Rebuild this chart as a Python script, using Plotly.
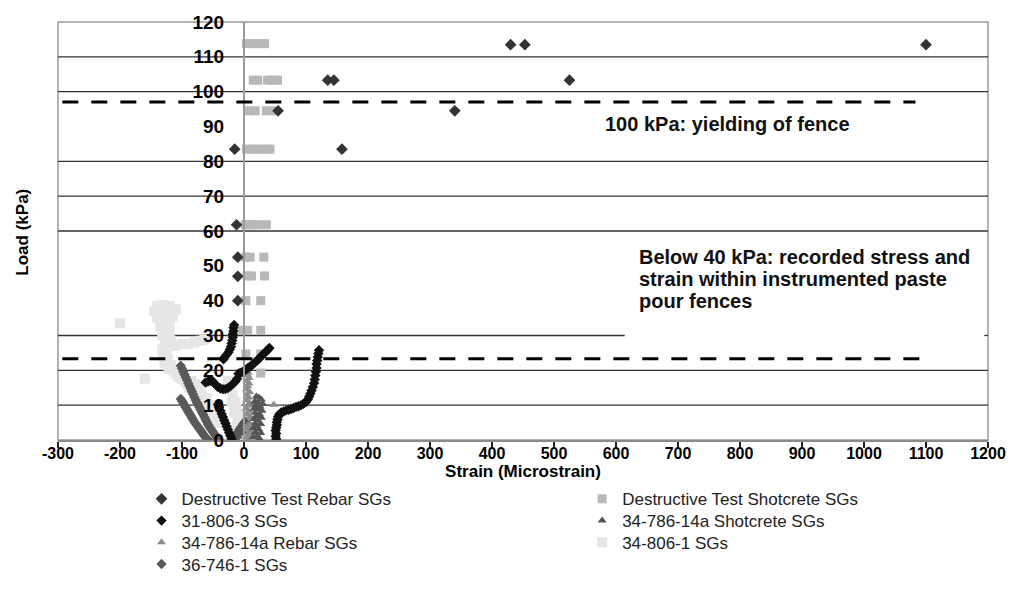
import plotly.graph_objects as go

# ---------------- data ----------------
x_tick_vals = [-300, -200, -100, 0, 100, 200, 300, 400, 500, 600, 700, 800, 900, 1000, 1100, 1200]
x_tick_text = ["-300", "-200", "-100", "0", "100", "200", "300", "400", "500", "600", "700", "800", "900", "1000", "1100", "1200"]
y_tick_vals = [0, 10, 20, 30, 40, 50, 60, 70, 80, 90, 100, 110, 120]
y_tick_text = ["0", "10", "20", "30", "40", "50", "60", "70", "80", "90", "100", "110", "120"]

# Destructive Test Rebar SGs
dtr_x = [1100, 430, 453, 525, 135, 145, 340, 55, 158, -15, -12, -10, -10, -10]
dtr_y = [113.5, 113.5, 113.5, 103.3, 103.3, 103.3, 94.5, 94.5, 83.5, 83.5, 61.8, 52.5, 47.0, 40.0]

# Destructive Test Shotcrete SGs
dts_x = [4, 12, 20, 28, 33,
         15, 22, 38, 46, 54,
         8, 18, 36, 45,
         4, 12, 20, 28, 36, 42,
         2, 8, 14, 22, 36,
         3, 10, 32,
         5, 12, 33,
         3, 27,
         -2, 6, 27,
         3, 27,
         27]
dts_y = [113.8, 113.8, 113.8, 113.8, 113.8,
         103.3, 103.3, 103.3, 103.3, 103.3,
         94.5, 94.5, 94.5, 94.5,
         83.5, 83.5, 83.5, 83.5, 83.5, 83.5,
         61.8, 61.8, 61.8, 61.8, 61.8,
         52.5, 52.5, 52.5,
         47.1, 47.1, 47.1,
         40.0, 40.0,
         31.5, 31.5, 31.5,
         24.7, 24.7,
         19.2]

# 31-806-3 SGs
s31_x = [52, 51, 52, 51, 52, 53, 53, 54, 55, 57, 60, 64, 68, 72, 76, 80, 84, 88, 92, 96, 100, 103, 105, 107,
         109, 111, 113, 114, 115, 116, 117, 117, 118, 119, 120, 121,
         -9, -6, -3, 0, 3, 6, 9, 12, 15, 18, 21, 24, 27, 30, 33, 36, 39, 41,
         -16, -17, -17, -18, -18, -19, -20, -21, -23, -25, -28, -31, -33,
         -62, -58, -54, -50, -46, -42, -38, -34, -30, -26, -22, -18, -14, -11,
         -42, -40, -38, -36, -34, -32, -30, -28, -26, -24, -22, -20]
s31_y = [0.3, 1.1, 1.9, 2.7, 3.5, 4.3, 5.1, 5.9, 6.7, 7.4, 7.9, 8.2, 8.5, 8.7, 8.9, 9.2, 9.5, 9.7, 10.0, 10.4, 10.9, 11.6, 12.4, 13.3,
         14.2, 15.2, 16.3, 17.4, 18.5, 19.6, 20.7, 21.8, 22.8, 23.8, 24.8, 25.8,
         19.0, 19.3, 19.5, 19.8, 20.2, 20.6, 21.0, 21.4, 21.8, 22.3, 22.8, 23.3, 23.9, 24.4, 25.0, 25.5, 26.0, 26.4,
         33.0, 32.2, 31.3, 30.4, 29.5, 28.6, 27.7, 26.8, 26.0, 25.2, 24.5, 23.8, 23.2,
         16.5, 16.8, 17.0, 16.8, 15.9, 15.2, 14.8, 14.6, 14.6, 14.9, 15.4, 16.1, 16.8, 17.6,
         10.2, 9.3, 8.4, 7.5, 6.6, 5.7, 4.8, 3.9, 3.0, 2.1, 1.2, 0.4]

# 34-786-14a Shotcrete SGs
s34s_x = [20, 24, 28, 17, 22, 30, 19, 26, 16, 23, 29, 18, 25, 20, 28, 16, 23, 18, 27, 21, 15, 24, 18, 27, 21, 15, 25,
          -20, -17, -14, -11, -8, -5, -2, 1, -12, -9, -6, -3]
s34s_y = [12.5, 12.2, 11.6, 11.0, 10.8, 10.4, 10.0, 9.6, 9.0, 8.8, 8.4, 7.8, 7.4, 6.8, 6.4, 6.0, 5.6, 4.8, 4.6, 4.0, 3.4, 3.0, 2.2, 2.0, 1.2, 0.8, 0.4,
          0.4, 1.1, 1.9, 2.7, 3.5, 4.3, 5.1, 5.7, 0.3, 1.0, 1.8, 2.6]

# 34-786-14a Rebar SGs
s34r_x = [7, 6, 8, 5, 8, 6, 4, 9, 5, 7, 4, 9, 6, 3, 8, 5, 10, 4, 8, 6, 3, 9, 5, 7, 4, 11, 12, 1, 48]
s34r_y = [19.4, 18.6, 17.8, 17.0, 16.2, 15.4, 14.6, 13.8, 13.0, 12.2, 11.4, 10.6, 9.8, 9.0, 8.2, 7.4, 6.6, 5.8, 5.0, 4.2,
          3.4, 2.6, 1.8, 1.0, 0.3, 3.5, 1.5, 2.0, 10.1]

# 34-806-1 SGs
s806_x = [-140, -130, -120, -110, -145, -135, -125, -115, -140, -130, -120, -135, -128, -120, -132, -125, -118,
          -128, -120, -110, -100, -90, -80, -70, -64, -132, -125, -130, -122, -128, -118, -122, -114, -110, -106,
          -100, -95, -92, -88, -84, -80, -85, -78, -72, -75, -70, -66, -68, -62, -58, -60, -55, -52, -48, -50, -45,
          -26, -22, -18, -14, -12, -10, -8, -12, -6, -4, -16, -20, -200, -160]
s806_y = [38.5, 38.8, 38.5, 37.5, 37.0, 36.5, 36.0, 35.5, 35.0, 34.0, 33.5, 32.5, 31.5, 31.0, 30.0, 29.0, 28.5,
          27.5, 27.0, 27.0, 27.5, 27.5, 28.0, 28.5, 28.8, 26.0, 25.0, 24.0, 23.0, 22.0, 21.5, 20.5, 20.0, 19.0, 18.0,
          17.5, 17.0, 16.0, 15.0, 14.5, 13.5, 17.0, 16.0, 14.5, 12.0, 11.0, 10.0, 13.0, 9.0, 8.0, 12.0, 10.0, 7.0, 6.0, 9.0, 5.0,
          17.0, 15.0, 13.0, 11.0, 9.0, 7.0, 5.0, 4.0, 3.0, 1.5, 8.0, 11.0, 33.5, 17.6]

# 36-746-1 SGs
s36_x = [-102, -100, -98, -96, -94, -92, -90, -88, -86, -84, -82, -80, -78, -76, -74, -72, -70, -68, -66, -64,
         -62, -60, -58, -56, -54, -52, -50, -48, -46, -44, -43,
         -102, -100, -98, -96, -94, -92, -90, -88, -86, -84, -82, -80, -78, -76, -74, -72, -70, -68, -66, -64,
         -62, -60, -58]
s36_y = [21.3, 20.5, 19.6, 18.8, 18.0, 17.2, 16.3, 15.5, 14.7, 13.9, 13.1, 12.3, 11.5, 10.8, 10.1, 9.4, 8.7, 8.0, 7.3, 6.6,
         5.9, 5.2, 4.5, 3.8, 3.3, 2.8, 2.3, 1.8, 1.3, 0.8, 0.5,
         11.8, 11.2, 10.6, 10.0, 9.4, 8.8, 8.2, 7.6, 7.0, 6.4, 5.8, 5.2, 4.7, 4.2, 3.7, 3.2, 2.7, 2.2, 1.7, 1.2,
         0.8, 0.4, 0.1]

# reference lines / gridlines
dash_levels = [97.0, 23.3]
dash_x0 = [-293, -293]
dash_x1 = [1083, 1099]
grid_full = [10, 20, 60, 70, 80, 100, 110]
grid_partial = 30
grid_partial_end = 614

FONT = "Liberation Sans, Arial, sans-serif"

fig = go.Figure()


def add(name, xs, ys, symbol, color, size, legend):
    fig.add_trace(go.Scatter(
        x=xs, y=ys, mode="markers", name=name, legend=legend, showlegend=True,
        marker=dict(symbol=symbol, color=color, size=size, line=dict(width=0)),
    ))


add("34-806-1 SGs", s806_x, s806_y, "square", "#e6e6e6", 10, "legend6")
add("Destructive Test Shotcrete SGs", dts_x, dts_y, "square", "#b8b8b8", 9, "legend2")
add("34-786-14a Rebar SGs", s34r_x, s34r_y, "triangle-up", "#8c8c8c", 8, "legend5")
add("34-786-14a Shotcrete SGs", s34s_x, s34s_y, "triangle-up", "#555555", 8, "legend4")
add("36-746-1 SGs", s36_x, s36_y, "diamond", "#5a5a5a", 8, "legend7")
add("31-806-3 SGs", s31_x, s31_y, "diamond", "#111111", 8, "legend3")
add("Destructive Test Rebar SGs", dtr_x, dtr_y, "diamond", "#333333", 9, "legend")

shapes = []
for g in grid_full:
    shapes.append(dict(type="line", xref="x", yref="y", x0=-300, x1=1200, y0=g, y1=g,
                       line=dict(color="#333333", width=1.3), layer="below"))
shapes.append(dict(type="line", xref="x", yref="y", x0=-300, x1=grid_partial_end, y0=grid_partial, y1=grid_partial,
                   line=dict(color="#333333", width=1.3), layer="below"))
shapes.append(dict(type="line", xref="x", yref="y", x0=1194, x1=1200, y0=grid_partial, y1=grid_partial,
                   line=dict(color="#333333", width=1.3), layer="below"))
# plot frame
shapes.append(dict(type="rect", xref="paper", yref="paper", x0=0, x1=1, y0=0, y1=1,
                   line=dict(color="#9a9a9a", width=1.5), layer="below"))
for lv, a, b in zip(dash_levels, dash_x0, dash_x1):
    shapes.append(dict(type="line", xref="x", yref="y", x0=a, x1=b, y0=lv, y1=lv,
                       line=dict(color="#000000", width=3, dash="16px,13px"), layer="above"))

ann_font = dict(family=FONT, size=20, color="#111", weight="bold")
annotations = [
    dict(text="100 kPa: yielding of fence", x=579, y=90.8, xref="x", yref="y", xanchor="left", yanchor="middle",
         showarrow=False, font=ann_font),
    dict(text="Below 40 kPa: recorded stress and", x=634, y=52.5, xref="x", yref="y", xanchor="left", yanchor="middle",
         showarrow=False, font=ann_font),
    dict(text="strain within instrumented paste", x=634, y=46.2, xref="x", yref="y", xanchor="left", yanchor="middle",
         showarrow=False, font=ann_font),
    dict(text="pour fences", x=634, y=40.0, xref="x", yref="y", xanchor="left", yanchor="middle",
         showarrow=False, font=ann_font),
    dict(text="Load (kPa)", x=-0.0385, y=0.4965, xref="paper", yref="paper", textangle=-90,
         xanchor="center", yanchor="middle", showarrow=False,
         font=dict(family=FONT, size=17, color="#000", weight="bold")),
]

leg_font = dict(family=FONT, size=17, color="#222222")
c1 = 0.0898
c2 = 0.5636
rows = [-0.1418, -0.1939, -0.2459, -0.2979]


def leg(x, y):
    return dict(x=x, y=y, xanchor="left", yanchor="middle", orientation="v", font=leg_font,
                bgcolor="rgba(0,0,0,0)", borderwidth=0, itemwidth=30, tracegroupgap=0)


fig.update_layout(
    width=1018, height=605,
    margin=dict(l=58, r=25, t=17, b=165, pad=0),
    paper_bgcolor="white", plot_bgcolor="white",
    font=dict(family=FONT, color="#000"),
    xaxis=dict(range=[-300, 1200], tickvals=x_tick_vals, ticktext=x_tick_text,
               showgrid=False, zeroline=False, showline=True, linecolor="#8a8a8a", linewidth=1.5,
               ticks="outside", ticklen=6, tickwidth=1.5, tickcolor="#222",
               ticklabelstandoff=-8,
               tickfont=dict(family=FONT, size=16, color="#000", weight="bold"),
               title=dict(text="Strain (Microstrain)", standoff=0,
                          font=dict(family=FONT, size=17, color="#000", weight="bold"))),
    yaxis=dict(range=[0, 120], tickvals=y_tick_vals, ticktext=y_tick_text,
               anchor="free", position=0.2,
               showgrid=False, zeroline=False, showline=True, linecolor="#9a9a9a", linewidth=2,
               ticks="", ticklabelstandoff=15,
               tickfont=dict(family=FONT, size=19, color="#000", weight="bold")),
    shapes=shapes,
    annotations=annotations,
    legend=leg(c1, rows[0]),
    legend2=leg(c2, rows[0]),
    legend3=leg(c1, rows[1]),
    legend4=leg(c2, rows[1]),
    legend5=leg(c1, rows[2]),
    legend6=leg(c2, rows[2]),
    legend7=leg(c1, rows[3]),
)

fig.write_html("out.html")
